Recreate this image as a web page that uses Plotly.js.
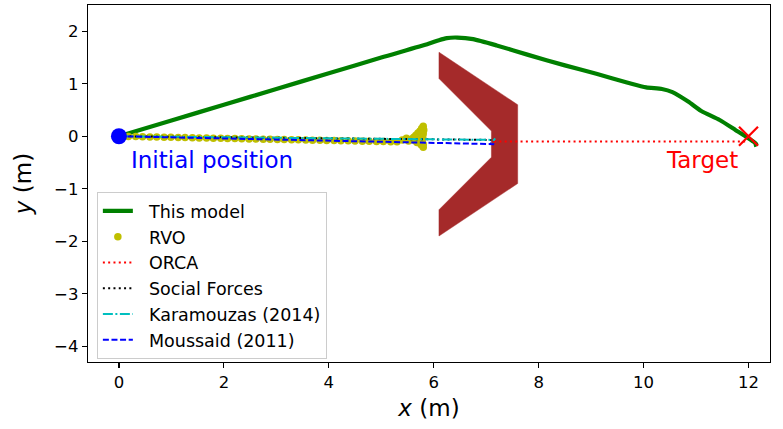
<!DOCTYPE html>
<html>
<head>
<meta charset="utf-8">
<script src="https://cdn.plot.ly/plotly-3.0.1.min.js"></script>
<style>html,body{margin:0;padding:0;background:#fff;}#chart{width:783px;height:429px;}</style>
</head>
<body>
<div id="chart"></div>
<script>
// Obstacle (chevron)
var obstacleX = [6.1, 7.6, 7.6, 6.1, 6.1, 7.1, 7.1, 6.1, 6.1];
var obstacleY = [1.6, 0.6, -0.9, -1.9, -1.4, -0.4, 0.1, 1.1, 1.6];

// This model
var modelX = [0, 1, 2, 3, 4, 5, 5.9, 6.1, 6.25, 6.45, 6.75, 7.2, 7.8, 8.5, 9.1, 9.7, 10.05, 10.35, 10.55, 10.85, 11.1, 11.45, 11.75, 12.0, 12.15, 12.1];
var modelY = [0, 0.3, 0.6, 0.9, 1.2, 1.5, 1.76, 1.83, 1.87, 1.88, 1.85, 1.73, 1.55, 1.35, 1.19, 1.02, 0.93, 0.90, 0.84, 0.66, 0.48, 0.31, 0.12, -0.04, -0.15, -0.17];

// RVO
var rvoX = [0.05,0.18,0.32,0.45,0.59,0.72,0.86,0.99,1.13,1.26,1.40,1.53,1.67,1.80,1.94,2.07,2.21,2.34,2.48,2.61,2.75,2.88,3.02,3.15,3.29,3.42,3.56,3.69,3.83,3.96,4.10,4.23,4.37,4.50,4.64,4.77,4.91,5.04,5.18,5.30,
  5.40,5.48,5.52,5.58,5.62,5.66,5.70,5.74,5.77,5.80,5.81,5.80,5.79,5.78,5.80,5.80,5.76,5.72,5.68,5.64];
var rvoY = [-0.001,-0.004,-0.006,-0.009,-0.012,-0.014,-0.017,-0.020,-0.023,-0.025,-0.028,-0.031,-0.033,-0.036,-0.039,-0.041,-0.044,-0.047,-0.050,-0.052,-0.055,-0.058,-0.060,-0.063,-0.066,-0.068,-0.071,-0.074,-0.077,-0.079,-0.082,-0.085,-0.087,-0.090,-0.093,-0.095,-0.098,-0.101,-0.104,-0.106,
  -0.07,-0.04,-0.09,-0.05,-0.02,0.02,0.06,0.10,0.15,0.19,0.12,0.05,-0.02,-0.09,-0.15,-0.21,-0.16,-0.10,-0.12,-0.08];

// ORCA
var orcaX = [7.15, 11.95];
var orcaY = [-0.1, -0.1];

// Social Forces
var sfX = [0, 7.1];
var sfY = [0, -0.07];

// Karamouzas (2014)
var karX = [0, 7.05, 7.15, 7.17];
var karY = [0, -0.07, -0.07, -0.04];

// Moussaid (2011)
var mouX = [0, 7.15, 7.08];
var mouY = [0, -0.15, -0.12];

// Start / target
var startX = [0], startY = [0];
var targetX = [12], targetY = [0];

var xTicks = [0, 2, 4, 6, 8, 10, 12];
var yTicks = [-4, -3, -2, -1, 0, 1, 2];

var F = 'DejaVu Sans';
var S = '\u00a0\u00a0';
var traces = [
  {x: obstacleX, y: obstacleY, mode: 'lines', fill: 'toself', fillcolor: '#a52a2a', line: {color: '#a52a2a', width: 0.5}, showlegend: false, hoverinfo: 'skip'},
  {x: modelX, y: modelY, mode: 'lines', name: S + 'This model', line: {color: '#008000', width: 4.2, shape: 'spline', smoothing: 0.6}},
  {x: rvoX, y: rvoY, mode: 'markers', name: S + 'RVO', marker: {color: '#bfbf00', size: 7.5}},
  {x: orcaX, y: orcaY, mode: 'lines', name: S + 'ORCA', line: {color: '#ff0000', width: 2, dash: '2px,3.3px'}},
  {x: sfX, y: sfY, mode: 'lines', name: S + 'Social Forces', line: {color: '#000000', width: 2, dash: '2px,3.3px'}},
  {x: karX, y: karY, mode: 'lines', name: S + 'Karamouzas (2014)', line: {color: '#00bfbf', width: 2, dash: '10px,2.5px,2px,2.5px'}},
  {x: mouX, y: mouY, mode: 'lines', name: S + 'Moussaid (2011)', line: {color: '#0000ff', width: 2, dash: '6px,2.6px'}},
  {x: startX, y: startY, mode: 'markers', marker: {color: '#0000ff', size: 16}, showlegend: false, hoverinfo: 'skip'},
  {x: targetX, y: targetY, mode: 'markers', marker: {symbol: 'x-thin', size: 19, line: {color: '#ff0000', width: 2.2}}, showlegend: false, hoverinfo: 'skip'}
];

var layout = {
  width: 783, height: 429,
  margin: {l: 88, r: 13, t: 5, b: 67},
  paper_bgcolor: '#fff', plot_bgcolor: '#fff',
  font: {family: F, color: '#000'},
  showlegend: true,
  legend: {x: 0.013, y: 0.476, xanchor: 'left', yanchor: 'top', bgcolor: '#fff', bordercolor: '#cccccc', borderwidth: 1, font: {family: F, size: 17.5, color: '#000'}, tracegroupgap: 0},
  xaxis: {range: [-0.59, 12.41], tickvals: xTicks, ticks: 'outside', ticklen: 5, tickwidth: 1.2, tickcolor: '#000', showgrid: false, zeroline: false, showline: true, mirror: true, linecolor: '#000', linewidth: 1.3, tickfont: {family: F, size: 16.5}, title: {text: '<i>x</i> (m)', font: {family: F, size: 23}, standoff: 8}},
  yaxis: {range: [-4.3, 2.5], tickvals: yTicks, ticks: 'outside', ticklen: 5, tickwidth: 1.2, tickcolor: '#000', showgrid: false, zeroline: false, showline: true, mirror: true, linecolor: '#000', linewidth: 1.3, tickfont: {family: F, size: 16.5}, title: {text: '<i>y</i> (m)', font: {family: F, size: 23}, standoff: 16}},
  annotations: [
    {x: 0.2, y: -0.45, xref: 'x', yref: 'y', text: 'Initial position', showarrow: false, xanchor: 'left', yanchor: 'middle', font: {family: F, size: 23, color: '#0000ff'}},
    {x: 11.84, y: -0.45, xref: 'x', yref: 'y', text: 'Target', showarrow: false, xanchor: 'right', yanchor: 'middle', font: {family: F, size: 23, color: '#ff0000'}}
  ]
};

Plotly.newPlot('chart', traces, layout, {displayModeBar: false, staticPlot: true});
</script>
</body>
</html>
